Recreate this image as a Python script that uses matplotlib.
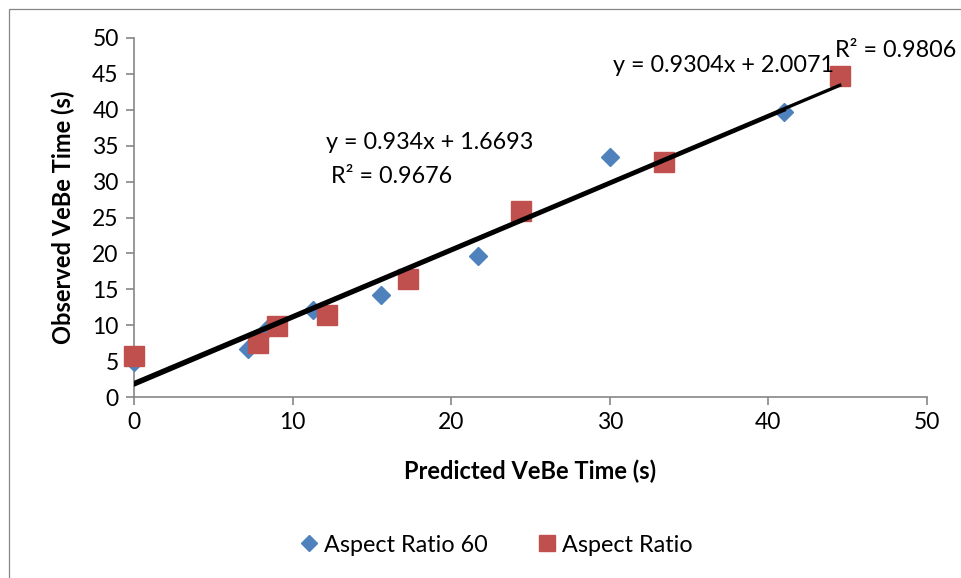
import matplotlib.pyplot as plt
from matplotlib.patches import Rectangle
import numpy as np

plt.rcParams['font.family'] = ['Lato', 'DejaVu Sans']

# Aspect Ratio 60 series
ar60_pred = [0.0, 7.2, 8.45, 11.3, 15.6, 21.7, 30.0, 41.0]
ar60_obs = [4.9, 6.7, 9.6, 12.1, 14.2, 19.6, 33.4, 39.7]

# Aspect Ratio series
ar_pred = [0.0, 7.8, 9.0, 12.2, 17.3, 24.4, 33.4, 44.5]
ar_obs = [5.7, 7.5, 9.9, 11.4, 16.4, 25.9, 32.7, 44.7]

# linear trend lines (slope, intercept, R^2)
fit60 = (0.934, 1.6693, 0.9676)
fit = (0.9304, 2.0071, 0.9806)

blue = '#4F81BD'
red = '#C0504D'
grey = '#868686'

fig = plt.figure(figsize=(9.62, 5.78), dpi=100)
fig.patches.append(Rectangle((9 / 962, -0.1), 1.2, 1 - 9 / 578 + 0.1,
                             transform=fig.transFigure, fill=False,
                             edgecolor=grey, linewidth=0.9))
ax = fig.add_axes([0.1393, 0.3131, 0.8243, 0.6212])

ax.plot(ar60_pred, ar60_obs, linestyle='none', marker='D', markersize=9.5,
        color=blue, label='Aspect Ratio 60', zorder=3, clip_on=False)
ax.plot(ar_pred, ar_obs, linestyle='none', marker='s', markersize=14,
        color=red, label='Aspect Ratio', zorder=3, clip_on=False)

x1 = np.array([min(ar60_pred), max(ar60_pred)])
ax.plot(x1, fit60[0] * x1 + fit60[1], color='black', linewidth=2.4, zorder=4)
x2 = np.array([min(ar_pred), max(ar_pred)])
ax.plot(x2, fit[0] * x2 + fit[1], color='black', linewidth=2.4, zorder=4)

tsize = 16.8
ax.text(12.1, 34.6, 'y = %gx + %g' % (fit60[0], fit60[1]), fontsize=tsize)
ax.text(12.4, 29.8, 'R² = %g' % fit60[2], fontsize=tsize)
ax.text(30.2, 45.2, 'y = %gx + %g' % (fit[0], fit[1]), fontsize=tsize)
ax.text(44.2, 47.3, 'R² = %g' % fit[2], fontsize=tsize, clip_on=False)

ax.set_xlim(0, 50)
ax.set_ylim(0, 50)
ax.set_xticks(np.arange(0, 51, 10))
ax.set_yticks(np.arange(0, 51, 5))
for s in ['top', 'right']:
    ax.spines[s].set_visible(False)
for s in ['left', 'bottom']:
    ax.spines[s].set_color(grey)
    ax.spines[s].set_linewidth(1.2)
ax.tick_params(direction='out', length=6, width=1.2, color=grey,
               labelsize=16.5, pad=5)

ax.set_xlabel('Predicted VeBe Time (s)', fontsize=17, fontweight='bold', labelpad=19)
ax.set_ylabel('Observed VeBe Time (s)', fontsize=17, fontweight='bold', labelpad=12)

fig.legend(loc='center', bbox_to_anchor=(0.514, 0.057), ncol=2, frameon=False,
           fontsize=16.8, handletextpad=0.1, columnspacing=2.0, handlelength=1.1,
           markerscale=0.85)

fig.savefig('out.png', dpi=100)
